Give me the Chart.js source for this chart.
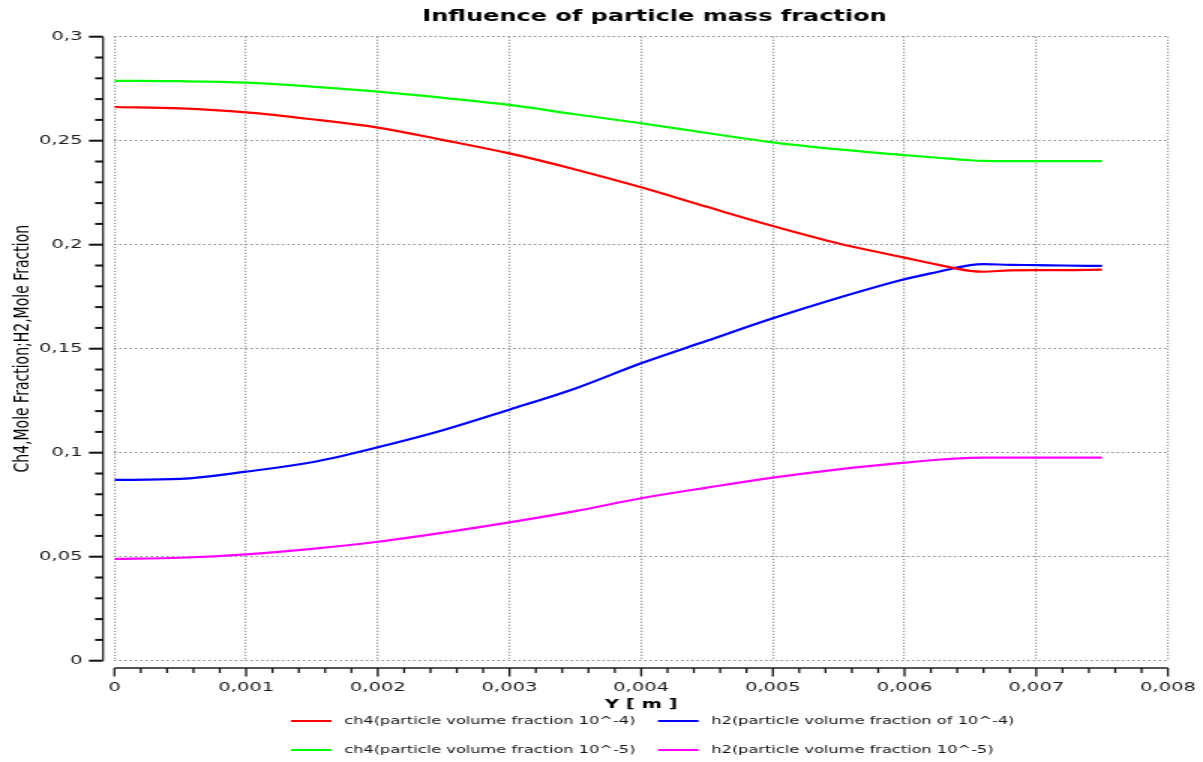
<!DOCTYPE html>
<html>
<head>
<meta charset="utf-8">
<script src="https://cdn.jsdelivr.net/npm/chart.js@4.4.1/dist/chart.umd.min.js"></script>
<style>
  html, body { margin: 0; padding: 0; background: #fff; overflow: hidden; }
  #wrap { width: 802px; height: 762px; transform: scaleX(1.5); transform-origin: 0 0; }
  canvas { display: block; }
</style>
</head>
<body>
<div id="wrap"><canvas id="chart" width="802" height="762"></canvas></div>
<script>
// Position along the domain, Y [m]
const positionsM = [0, 0.0005, 0.001, 0.0015, 0.002, 0.0025, 0.003, 0.0035, 0.004, 0.0045,
                    0.005, 0.0055, 0.006, 0.00625, 0.0065, 0.0066, 0.0068, 0.007, 0.0072, 0.0075];

// CH4 mole fraction, particle volume fraction 1e-4
const ch4Vf4 = [0.2662, 0.2655, 0.2636, 0.2603, 0.2563, 0.2503, 0.2439, 0.2362, 0.2276, 0.2182,
                0.2090, 0.2006, 0.1938, 0.1904, 0.1874, 0.1870, 0.1877, 0.1878, 0.1878, 0.1880];
// H2 mole fraction, particle volume fraction 1e-4
const h2Vf4 = [0.0869, 0.0874, 0.0909, 0.0954, 0.1026, 0.1109, 0.1207, 0.1309, 0.1430, 0.1538,
               0.1646, 0.1745, 0.1834, 0.1869, 0.1902, 0.1907, 0.1903, 0.1902, 0.1900, 0.1898];
// CH4 mole fraction, particle volume fraction 1e-5
const ch4Vf5 = [0.2788, 0.2786, 0.2779, 0.2760, 0.2736, 0.2706, 0.2672, 0.2627, 0.2584, 0.2537,
                0.2492, 0.2458, 0.2431, 0.2418, 0.2406, 0.2403, 0.2402, 0.2402, 0.2402, 0.2402];
// H2 mole fraction, particle volume fraction 1e-5
const h2Vf5 = [0.0489, 0.0495, 0.0511, 0.0538, 0.0572, 0.0616, 0.0665, 0.0719, 0.0781, 0.0832,
               0.0880, 0.0920, 0.0952, 0.0966, 0.0975, 0.0976, 0.0976, 0.0976, 0.0976, 0.0976];

const seriesLabels = [
  'ch4(particle volume fraction 10^-4)',
  'h2(particle volume fraction of 10^-4)',
  'ch4(particle volume fraction 10^-5)',
  'h2(particle volume fraction 10^-5)'
];
const seriesColors = ['#ff0000', '#0000ff', '#00ff00', '#ff00ff'];

const chartTitle = 'Influence of particle mass fraction';
const xAxisTitle = 'Y [ m ]';
const yAxisTitle = 'Ch4,Mole Fraction;H2,Mole Fraction';

const FONT = "'DejaVu Sans', Verdana, sans-serif";
const commaNum = v => String(+Number(v).toFixed(4)).replace('.', ',');

// Detached axis lines with major/minor tick marks, plus title and legend
const frame = {
  id: 'frame',
  afterDraw(chart) {
    const { ctx, chartArea: a, scales: { x, y } } = chart;
    ctx.save();

    // vertical axis line
    const sx = a.left - 7.6;
    ctx.strokeStyle = '#111';
    ctx.lineWidth = 1.2;
    ctx.beginPath();
    ctx.moveTo(sx, y.getPixelForValue(y.max));
    ctx.lineTo(sx, y.getPixelForValue(y.min));
    ctx.stroke();
    ctx.lineWidth = 2;
    for (let i = 0; i <= 30; i++) {
      const py = y.getPixelForValue(i / 100);
      const len = i % 5 === 0 ? 9.4 : 5.3;
      ctx.beginPath();
      ctx.moveTo(sx - len, py);
      ctx.lineTo(sx, py);
      ctx.stroke();
    }

    // horizontal axis line
    const sy = a.bottom + 7.3;
    ctx.strokeStyle = '#555';
    ctx.lineWidth = 2;
    ctx.beginPath();
    ctx.moveTo(x.getPixelForValue(x.min), sy);
    ctx.lineTo(x.getPixelForValue(x.max), sy);
    ctx.stroke();
    ctx.strokeStyle = '#111';
    ctx.lineWidth = 1.3;
    for (let i = 0; i <= 40; i++) {
      const px = x.getPixelForValue(i * 0.0002);
      const len = i % 5 === 0 ? 8.5 : 5;
      ctx.beginPath();
      ctx.moveTo(px, sy);
      ctx.lineTo(px, sy + len);
      ctx.stroke();
    }

    // title
    ctx.fillStyle = '#000';
    ctx.font = `bold 16px ${FONT}`;
    ctx.textAlign = 'center';
    ctx.textBaseline = 'middle';
    ctx.fillText(chartTitle, a.left + 360, 17);

    // legend, two columns by two rows
    ctx.font = `10.8px ${FONT}`;
    ctx.textAlign = 'left';
    ctx.fillStyle = '#111';
    const colX = [a.left + 117.7, a.left + 362.4];
    const rowY = [721, 750];
    chart.data.datasets.forEach((ds, i) => {
      const lx = colX[i % 2];
      const ly = rowY[Math.floor(i / 2)];
      ctx.strokeStyle = ds.borderColor;
      ctx.lineWidth = 2;
      ctx.beginPath();
      ctx.moveTo(lx, ly);
      ctx.lineTo(lx + 27, ly);
      ctx.stroke();
      ctx.fillText(ds.label, lx + 35.5, ly);
    });
    ctx.restore();
  }
};

const seriesValues = [ch4Vf4, h2Vf4, ch4Vf5, h2Vf5];

new Chart(document.getElementById('chart'), {
  type: 'line',
  data: {
    datasets: seriesValues.map((vals, i) => ({
      label: seriesLabels[i],
      data: positionsM.map((p, k) => ({ x: p, y: vals[k] })),
      borderColor: seriesColors[i],
      backgroundColor: seriesColors[i],
      borderWidth: 2.2,
      pointRadius: 0,
      cubicInterpolationMode: 'monotone',
      fill: false
    }))
  },
  options: {
    responsive: false,
    animation: false,
    devicePixelRatio: 1,
    layout: { padding: { top: 36.7, right: 23.4, bottom: 48.3, left: 0 } },
    plugins: {
      legend: { display: false },
      title: { display: false },
      tooltip: { enabled: false }
    },
    scales: {
      x: {
        type: 'linear',
        min: 0,
        max: 0.008,
        afterFit: s => { s.height = 53; s.paddingLeft = 0; s.paddingRight = 0; },
        ticks: {
          stepSize: 0.001,
          maxRotation: 0,
          autoSkip: false,
          padding: 19.5,
          color: '#1a1a1a',
          font: { family: FONT, size: 13 },
          callback: v => commaNum(v)
        },
        grid: { color: '#7a7a7a', lineWidth: 1.2, drawTicks: false },
        border: { display: false, dash: [1, 2] },
        title: {
          display: true,
          text: xAxisTitle,
          color: '#000',
          font: { family: FONT, size: 13, weight: 'bold' },
          padding: { top: 0, bottom: 1 }
        }
      },
      y: {
        min: 0,
        max: 0.3,
        afterFit: s => { s.width = 76.3; s.paddingTop = 0; s.paddingBottom = 0; },
        ticks: {
          stepSize: 0.05,
          padding: 21.3,
          color: '#1a1a1a',
          font: { family: FONT, size: 13 },
          callback: v => commaNum(v)
        },
        grid: { color: '#8a8a8a', lineWidth: 1, drawTicks: false },
        border: { display: false, dash: [1.5, 2] },
        title: {
          display: true,
          text: yAxisTitle,
          color: '#000',
          font: { family: FONT, size: 14 },
          padding: { top: 7, bottom: 0 }
        }
      }
    }
  },
  plugins: [frame]
});
</script>
</body>
</html>
